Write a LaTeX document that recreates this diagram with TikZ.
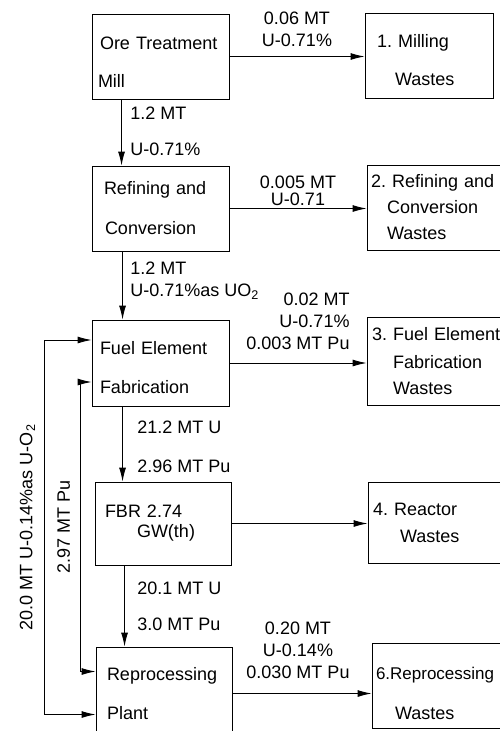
\documentclass[tikz,border=0pt]{standalone}
\usepackage{fontspec}
\setmainfont{Liberation Sans}
\usetikzlibrary{arrows.meta}

\begin{document}
\begin{tikzpicture}[x=1pt, y=-1pt,
        box/.style={rectangle, draw=black, line width=0.9pt, align=left, inner xsep=4pt, minimum height=85pt, font=\fontsize{18}{21}\selectfont\frenchspacing},
        flow/.style={font=\fontsize{18}{22}\selectfont},
        side/.style={flow, rotate=90, anchor=south},
        arrow/.style={-{Latex[length=14pt,width=7pt]}, line width=0.9pt},
        twoway/.style={{Latex[length=14pt,width=7pt]}-{Latex[length=14pt,width=7pt]}, line width=0.9pt}
      ]
\useasboundingbox (0,0) rectangle (499,731);

% process chain
\node[box, text width=129pt] (ore) at (160.5,56.5) {\rule{0pt}{23pt}\hspace*{4pt}Ore Treatment\\[17pt]\hspace*{2pt}Mill};
      \node[box, text width=129pt] (refine) at (160.5,208.5) {\hspace*{8pt}Refining and\\[19pt]\hspace*{9pt}Conversion};
      \node[box, text width=129pt, minimum height=86pt] (fuel) at (160.5,363) {\rule{0pt}{23pt}\hspace*{4pt}Fuel Element\\[18pt]\hspace*{4pt}Fabrication};
      \node[box, text width=128pt, minimum height=83pt] (fbr) at (163,523.5) {\hspace*{6pt}FBR 2.74\\[-1pt]\hspace*{38pt}GW(th)};
      \node[box, text width=128pt, minimum height=93pt] (repro) at (164,693.5) {\hspace*{7pt}Reprocessing\\[18pt]\hspace*{7pt}Plant};

% wastes
\node[box, text width=120pt] (mill) at (429,55.5) {\rule{0pt}{23pt}\hspace*{8pt}1. Milling\\[17pt]\hspace*{26pt}Wastes};
      \node[box, text width=130pt] (refwaste) at (436,207.5) {2. Refining and\\[5pt]\hspace*{16pt}Conversion\\[5pt]\hspace*{16pt}Wastes};
      \node[box, text width=130pt, minimum height=88pt] (fuelwaste) at (436,361) {\hspace*{1pt}\mbox{3. Fuel Element}\\[7pt]\hspace*{22pt}Fabrication\\[5pt]\hspace*{22pt}Wastes};
      \node[box, text width=129pt, minimum height=81pt] (reacwaste) at (436.5,522.5) {\hspace*{1pt}4. Reactor\\[6pt]\hspace*{28pt}Wastes};
      \node[box, text width=125pt] (reprowaste) at (438.5,685.5) {\rule{0pt}{29pt}{\fontsize{17}{21}\selectfont 6.Reprocessing}\\[19pt]\hspace*{19pt}Wastes};

\coordinate (s1) at ([xshift=30pt]ore.south west);
      \coordinate (s2) at ([xshift=31pt]refine.south west);
      \coordinate (s3) at ([xshift=31pt]fuel.south west);
      \coordinate (s4) at ([xshift=30pt]fbr.south west);

\draw[arrow] (s1) -- node[flow, pos=.21, right=5pt] {1.2 MT} node[flow, pos=.75, right=5pt] {U-0.71\%} (s1 |- refine.north);
      \draw[arrow] (s2) -- node[flow, pos=.24, right=4pt] {1.2 MT} node[flow, pos=.59, right=4pt] {U-0.71\%as UO\textsubscript{2}} (s2 |- fuel.north);
      \draw[arrow] (s3) -- node[flow, pos=.28, right=11pt] {21.2 MT U} node[flow, pos=.8, right=11pt] {2.96 MT Pu} (s3 |- fbr.north);
      \draw[arrow] (s4) -- node[flow, pos=.28, right=9pt] {20.1 MT U} node[flow, pos=.73, right=9pt] {3.0 MT Pu} (s4 |- repro.north);

\draw[arrow] (ore.east) -- node[flow, above=6pt, align=center] {0.06 MT\\U-0.71\%} (ore.east -| mill.west);
      \draw[arrow] (refine.east) -- node[flow, above=-1pt, align=center] {0.005 MT\\[-5pt]U-0.71} (refine.east -| refwaste.west);
      \draw[arrow] (fuel.east) -- node[flow, above=10pt, align=right] {0.02 MT\\U-0.71\%\\0.003 MT Pu} (fuel.east -| fuelwaste.west);
      \draw[arrow] (fbr.east) -- (fbr.east -| reacwaste.west);
      \draw[arrow] (repro.east) -- node[flow, above=11pt, xshift=-4pt, align=center] {0.20 MT\\U-0.14\%\\0.030 MT Pu} (repro.east -| reprowaste.west);

% recycle to fabrication
\draw[twoway] ([yshift=-21pt]repro.west) -- ++(-51pt,0) |- node[side, pos=.25, inner ysep=9pt] {20.0 MT U-0.14\%as U-O\textsubscript{2}} ([yshift=23pt]fuel.west);
      \draw[twoway] ([yshift=22pt]repro.west) -- ++(-15pt,0) |- node[side, pos=.25, inner ysep=10pt] {2.97 MT Pu} ([yshift=-19pt]fuel.west);

      \end{tikzpicture}
\end{document}
